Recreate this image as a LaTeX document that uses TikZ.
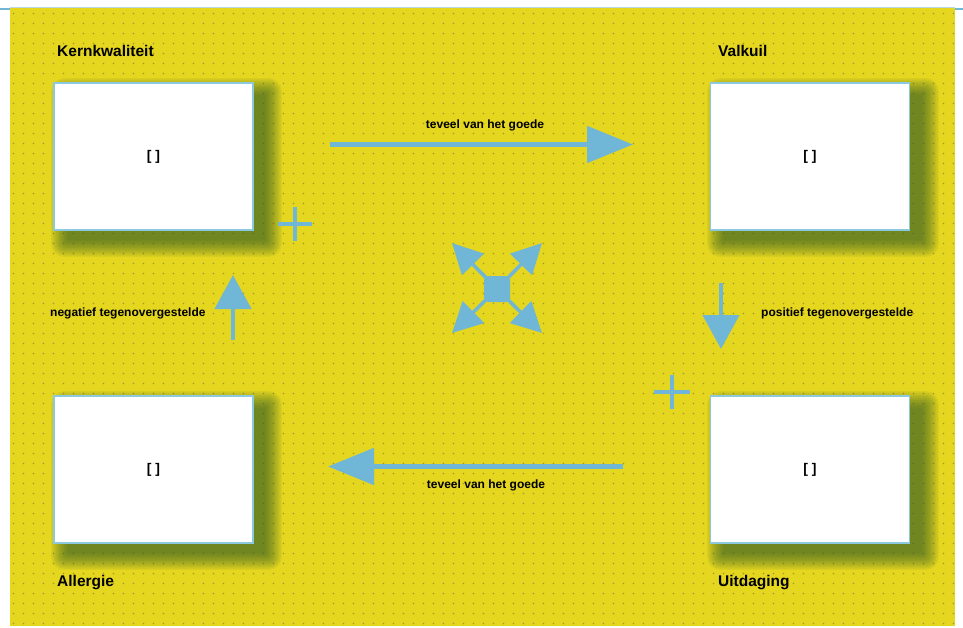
\documentclass[tikz,border=0pt]{standalone}
\usepackage{fontspec}
\setmainfont{Liberation Sans}
\usetikzlibrary{arrows.meta,patterns.meta}
\definecolor{bgyellow}{RGB}{229,215,32}
\definecolor{dotc}{RGB}{165,150,40}
\definecolor{arrblue}{RGB}{112,182,214}
\definecolor{edgeblue}{RGB}{140,200,222}
\definecolor{shadowc}{RGB}{55,95,45}
\definecolor{paleline}{RGB}{185,215,232}
\tikzdeclarepattern{
  name=ydots,
  type=uncolored,
  bounding box={(0pt,0pt) and (9.5pt,9.5pt)},
  tile size={(9.5pt,9.5pt)},
  code={\fill (4.75pt,4.75pt) circle (1pt);}
}
\newcommand\boxshadow[4]{%
  \foreach \i in {0,...,13}{%
    \fill[shadowc, opacity=0.07, rounded corners=\i pt]
      (#1+14-\i*1.3, #2+12-\i*1.3) rectangle (#3+12+\i*1.3, #4+10+\i*1.3);
  }%
}
\tikzset{
  bigbox/.style={draw=edgeblue, line width=1.6pt, fill=white, minimum width=199pt, minimum height=147pt, inner sep=0pt, font=\bfseries\fontsize{14}{16}\selectfont},
  title/.style={anchor=base west, inner sep=0pt, font=\bfseries\fontsize{15.5}{17}\selectfont},
  small/.style={inner sep=0pt, font=\bfseries\fontsize{12}{14}\selectfont},
  bigarr/.style={draw=arrblue, line width=5pt, -{Triangle[length=46pt,width=36pt]}},
  varr/.style={draw=arrblue, line width=4.5pt, -{Triangle[length=34pt,width=36pt]}},
  diag/.style={draw=arrblue, line width=3.5pt, -{Triangle[length=30pt,width=30pt]}},
  plussign/.style={draw=arrblue, line width=4.5pt},
}
\begin{document}
\begin{tikzpicture}[x=1pt,y=-1pt]
\useasboundingbox (0,0) rectangle (963,628);
\fill[white] (0,0) rectangle (963,628);
\fill[bgyellow] (10,8) rectangle (955,626);
\fill[pattern=ydots, pattern color=dotc] (10,8) rectangle (955,626);
\draw[paleline, line width=1pt] (10,7.5) -- (955,7.5);
\draw[arrblue, line width=1.2pt] (0,9) -- (10,9);
\draw[arrblue, line width=1.2pt] (955,9) -- (963,9);

% shadows
\boxshadow{54}{83}{253}{230}
\boxshadow{710}{83}{910}{230}
\boxshadow{54}{396}{253}{543}
\boxshadow{710}{396}{910}{543}

% boxes
\node[bigbox] (kern) at (153.5,156.5) {[ ]};
\node[bigbox] (valk) at (810,156.5) {[ ]};
\node[bigbox] (aller) at (153.5,469.5) {[ ]};
\node[bigbox] (uitd) at (810,469.5) {[ ]};

% titles
\node[title] (tkern) at (57,57) {Kernkwaliteit};
\node[title] (tvalk) at (718,57) {Valkuil};
\node[title] (taller) at (57,586) {Allergie};
\node[title] (tuitd) at (718,586) {Uitdaging};

% horizontal arrows
\coordinate (ta) at (330,144.5);
\coordinate (tb) at (633,144.5);
\draw[bigarr] (ta) -- (tb);
\node[small] (lt) at (485,125) {teveel van het goede};
\coordinate (ba) at (623,466.5);
\coordinate (bb) at (328,466.5);
\draw[bigarr] (ba) -- (bb);
\node[small] (lb) at (486,485) {teveel van het goede};

% vertical arrows
\coordinate (la) at (233,340);
\coordinate (lb2) at (233,275);
\draw[varr] (la) -- (lb2);
\node[small, anchor=west] (ln) at (50,313.5) {negatief tegenovergestelde};
\coordinate (ra) at (721,283);
\coordinate (rb) at (721,349);
\draw[varr] (ra) -- (rb);
\node[small, anchor=west] (lp) at (761,313.5) {positief tegenovergestelde};

% plus signs
\coordinate (p1) at (295,224);
\draw[plussign] ([xshift=-17pt]p1) -- ([xshift=17pt]p1);
\draw[plussign] ([yshift=-17pt]p1) -- ([yshift=17pt]p1);
\coordinate (p2) at (672,392);
\draw[plussign] ([xshift=-18pt]p2) -- ([xshift=18pt]p2);
\draw[plussign] ([yshift=-17pt]p2) -- ([yshift=17pt]p2);

% center symbol
\node[fill=arrblue, minimum size=26pt, inner sep=0pt, rounded corners=4pt] (ctr) at (497,289) {};
\coordinate (nw) at (452,243);
\coordinate (ne) at (542,243);
\coordinate (sw) at (452,333);
\coordinate (se) at (542,333);
\draw[diag] (ctr.center) -- (nw);
\draw[diag] (ctr.center) -- (ne);
\draw[diag] (ctr.center) -- (sw);
\draw[diag] (ctr.center) -- (se);
\end{tikzpicture}
\end{document}
